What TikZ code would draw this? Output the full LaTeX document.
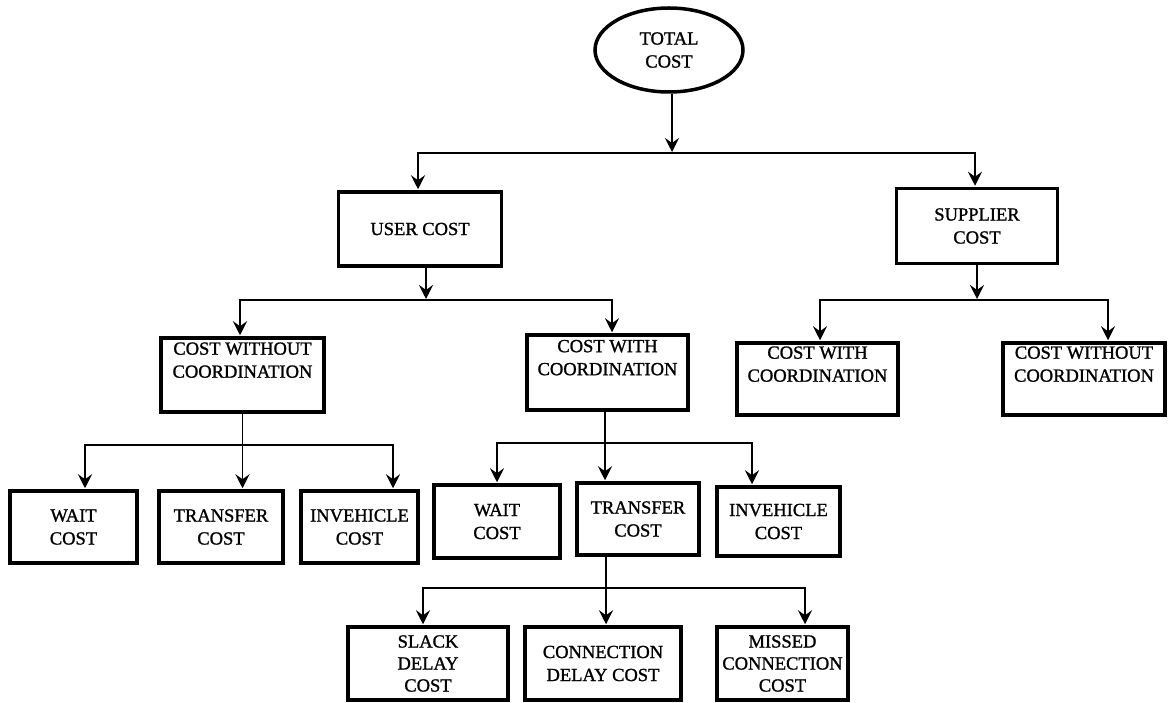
\documentclass[tikz,border=0pt]{standalone}
\usepackage{fontspec}
\setmainfont{Liberation Serif}[FakeBold=1.2]
\usetikzlibrary{arrows.meta,shapes.geometric}
\begin{document}
\begin{tikzpicture}[x=1pt,y=-1pt,
  every node/.style={font=\fontsize{18.5}{23}\selectfont, align=center, inner sep=0pt},
  box/.style={draw, line width=3.5pt, rectangle},
  oval/.style={draw, line width=3.5pt, ellipse},
  link/.style={line width=1.9pt, shorten >=1pt, -{Stealth[length=14pt,width=14pt,inset=5pt]}},
  bus/.style={line width=1.9pt}
]
\useasboundingbox (0,0) rectangle (1168,703);

% root
\node[oval, minimum width=148, minimum height=84] (total) at (669,50) {TOTAL\\COST};

% first level
\node[box, minimum width=163, minimum height=74] (user) at (420,229) {USER COST};
\node[box, minimum width=161, minimum height=75] (supplier) at (977,226) {SUPPLIER\\COST};

% second level
\node[box, minimum width=163, minimum height=74] (cwoc1) at (242.5,375) {COST WITHOUT\\COORDINATION\\\strut};
\node[box, minimum width=161, minimum height=75] (cwc1) at (607.5,372.5) {COST WITH\\COORDINATION\\\strut};
\node[box, minimum width=161, minimum height=72] (cwc2) at (817.5,379) {COST WITH\\COORDINATION\\\strut};
\node[box, minimum width=162, minimum height=72] (cwoc2) at (1084,379) {COST WITHOUT\\COORDINATION\\\strut};

% third level, without coordination
\node[box, minimum width=127, minimum height=72] (wait1) at (73.5,527) {WAIT\\COST};
\node[box, minimum width=124, minimum height=72] (transfer1) at (221,527) {TRANSFER\\COST};
\node[box, minimum width=117, minimum height=72] (inveh1) at (359.5,527) {INVEHICLE\\COST};

% third level, with coordination
\node[box, minimum width=126, minimum height=73] (wait2) at (497,521.5) {WAIT\\COST};
\node[box, minimum width=122, minimum height=72] (transfer2) at (638,519) {TRANSFER\\COST};
\node[box, minimum width=123, minimum height=69] (inveh2) at (778.5,521.5) {INVEHICLE\\COST};

% fourth level
\node[box, minimum width=160, minimum height=73, font=\fontsize{18.5}{22}\selectfont] (slack) at (428,663.5) {SLACK\\DELAY\\COST};
\node[box, minimum width=156, minimum height=73] (conn) at (603,663.5) {CONNECTION\\DELAY COST};
\node[box, minimum width=131, minimum height=73, font=\fontsize{18.5}{22}\selectfont] (missed) at (782.5,663.5) {MISSED\\CONNECTION\\COST};

% junction points on the horizontal buses
\coordinate (j0) at (672,153);
\coordinate (j1) at (426,300);
\coordinate (j2) at (977,300);
\coordinate (j3) at (242.5,445);
\coordinate (j4) at (605,443);
\coordinate (j5) at (606,588);

% root to first level
\draw[link] (j0 |- total.south) -- (j0);
\draw[link] (j0) -| ([xshift=-2]user.north);
\draw[link] (j0) -| ([xshift=-2]supplier.north);

% user cost branch
\draw[link] (j1 |- user.south) -- (j1);
\draw[link] (j1) -| ([xshift=-2.5]cwoc1.north);
\draw[link] (j1) -| ([xshift=4.5]cwc1.north);

% supplier cost branch
\draw[link] (supplier.south) -- (j2);
\draw[link] (j2) -| ([xshift=2.5]cwc2.north);
\draw[link] (j2) -| ([xshift=24]cwoc2.north);

% cost without coordination branch
\draw[bus] (cwoc1.south) -- (j3);
\draw[link] (j3) -| ([xshift=11.5]wait1.north);
\draw[link] (j3) -- (j3 |- transfer1.north);
\draw[link] (j3) -| ([xshift=33.5]inveh1.north);

% cost with coordination branch
\draw[bus] (j4 |- cwc1.south) -- (j4);
\draw[link] (j4) -| (wait2.north);
\draw[link] (j4) -- (j4 |- transfer2.north);
\draw[link] (j4) -| ([xshift=-26.5]inveh2.north);

% transfer cost branch
\draw[bus] (j5 |- transfer2.south) -- (j5);
\draw[link] (j5) -| ([xshift=-5]slack.north);
\draw[link] (j5) -- (j5 |- conn.north);
\draw[link] (j5) -| ([xshift=22.5]missed.north);
\end{tikzpicture}
\end{document}
